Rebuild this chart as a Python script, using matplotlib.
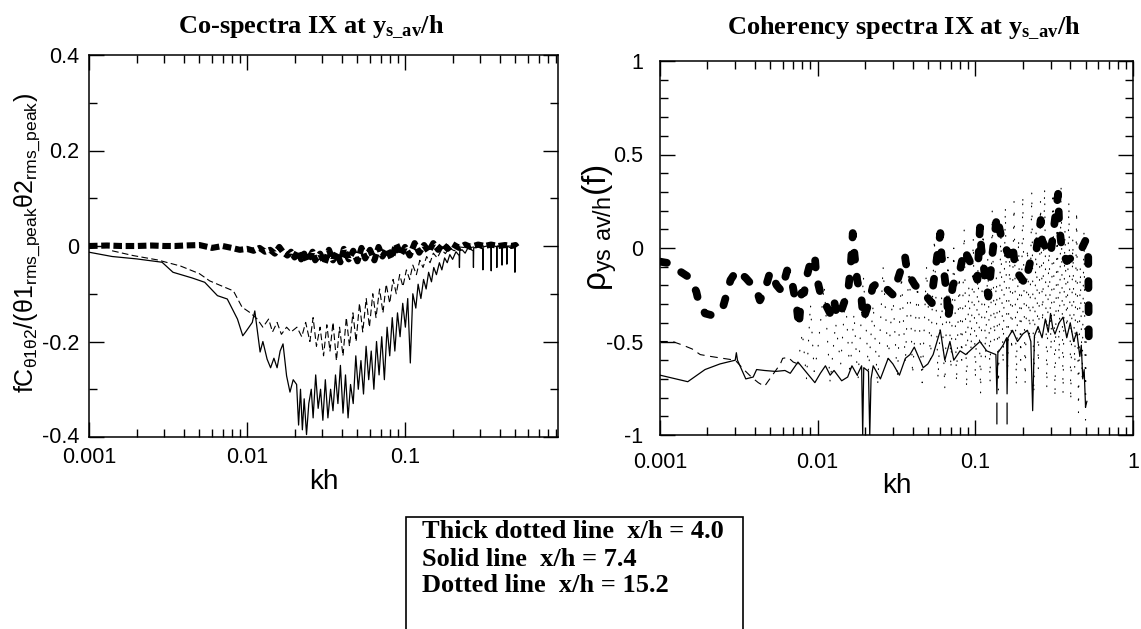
import numpy as np
import matplotlib
matplotlib.use("Agg")
import matplotlib.pyplot as plt
from matplotlib.ticker import FixedLocator, FuncFormatter, LogLocator, NullFormatter
from matplotlib.patches import Rectangle
from matplotlib.transforms import ScaledTranslation

# ---------------- data ----------------
# left panel: co-spectra
k_thick_l = [0.001, 0.0013, 0.0016, 0.002, 0.0025, 0.003, 0.0035, 0.004, 0.005, 0.006,
             0.007, 0.008, 0.009, 0.010, 0.011, 0.012, 0.013, 0.014, 0.015, 0.016,
             0.017, 0.018, 0.019, 0.020, 0.021, 0.022, 0.023, 0.024, 0.026, 0.027,
             0.029, 0.031, 0.033, 0.035, 0.037, 0.039, 0.041, 0.044, 0.047, 0.050,
             0.053, 0.056, 0.060, 0.064, 0.068, 0.072, 0.077, 0.082, 0.088, 0.094,
             0.100, 0.107, 0.115, 0.123, 0.132, 0.141, 0.151, 0.162, 0.174, 0.186,
             0.20, 0.22, 0.24, 0.26, 0.29, 0.32, 0.35, 0.39, 0.43, 0.47, 0.50, 0.51]
y_thick_l = [0.000, 0.001, 0.000, 0.000, 0.001, 0.000, 0.000, 0.001, 0.002, -0.004,
             0.000, -0.004, -0.008, -0.006, -0.010, -0.004, -0.012, -0.008, -0.016, -0.002,
             -0.014, -0.020, -0.012, -0.024, -0.010, -0.028, -0.016, -0.032, -0.012, -0.030,
             -0.016, -0.036, -0.008, -0.030, -0.014, -0.034, -0.006, -0.028, -0.010, -0.032,
             -0.004, -0.026, -0.008, -0.030, -0.002, -0.022, -0.006, -0.026, 0.004, -0.018,
             -0.002, -0.020, 0.006, -0.014, 0.002, -0.012, 0.006, -0.008, 0.004, -0.006,
             0.004, -0.004, 0.003, -0.002, 0.003, 0.000, 0.003, 0.000, 0.002, 0.000, 0.002, -0.002]

k_solid_l = [0.001, 0.0014, 0.002, 0.0029, 0.0034, 0.0045, 0.0054, 0.0065, 0.0075, 0.0087,
             0.0094, 0.0098, 0.0108, 0.0112, 0.0121, 0.0126, 0.0134, 0.0141, 0.0148, 0.0155,
             0.0162, 0.0169, 0.0178, 0.0187, 0.0196, 0.0206, 0.0212, 0.0218, 0.0224, 0.0230,
             0.0238, 0.0246, 0.0255, 0.0262, 0.0272, 0.0282, 0.0292, 0.0302, 0.0313, 0.0325,
             0.0338, 0.0350, 0.0363, 0.0376, 0.0390, 0.0405, 0.0420, 0.0436, 0.0452, 0.0470,
             0.0488, 0.0506, 0.0526, 0.0546, 0.0567, 0.0589, 0.0611, 0.0635, 0.0660, 0.0685,
             0.0712, 0.0740, 0.0770, 0.0800, 0.0830, 0.0862, 0.0896, 0.0930, 0.0967, 0.1005,
             0.104, 0.108, 0.112, 0.117, 0.121, 0.126, 0.131, 0.136, 0.141, 0.147,
             0.152, 0.158, 0.165, 0.171, 0.178, 0.185, 0.192, 0.200, 0.210, 0.220,
             0.221, 0.222, 0.23, 0.24, 0.25, 0.27, 0.271, 0.272, 0.29, 0.31,
             0.311, 0.312, 0.33, 0.35, 0.351, 0.352, 0.37, 0.38, 0.381, 0.382,
             0.40, 0.41, 0.411, 0.412, 0.43, 0.44, 0.441, 0.442, 0.46, 0.495,
             0.496, 0.497, 0.50]
y_solid_l = [-0.013, -0.022, -0.027, -0.034, -0.055, -0.067, -0.076, -0.104, -0.111, -0.153,
             -0.188, -0.180, -0.160, -0.136, -0.222, -0.200, -0.237, -0.255, -0.235, -0.255,
             -0.220, -0.205, -0.272, -0.306, -0.280, -0.290, -0.375, -0.300, -0.385, -0.320,
             -0.395, -0.330, -0.300, -0.360, -0.270, -0.340, -0.300, -0.365, -0.280, -0.360,
             -0.300, -0.345, -0.270, -0.330, -0.250, -0.350, -0.270, -0.360, -0.290, -0.330,
             -0.230, -0.300, -0.240, -0.310, -0.210, -0.280, -0.220, -0.300, -0.200, -0.270,
             -0.190, -0.280, -0.170, -0.230, -0.150, -0.220, -0.140, -0.190, -0.120, -0.170,
             -0.110, -0.245, -0.100, -0.130, -0.080, -0.110, -0.070, -0.090, -0.055, -0.075,
             -0.045, -0.060, -0.035, -0.050, -0.025, -0.035, -0.018, -0.028, -0.012, -0.020,
             -0.045, -0.010, -0.008, -0.015, -0.004, -0.010, -0.045, -0.004, -0.002, -0.006,
             -0.050, -0.002, 0.000, -0.004, -0.052, 0.000, 0.000, -0.002, -0.045, 0.000,
             -0.002, 0.000, -0.040, 0.000, 0.000, -0.002, -0.038, 0.000, -0.003, 0.000,
             -0.055, 0.000, 0.000]

k_dot_l = [0.0014, 0.0019, 0.0027, 0.0038, 0.0050, 0.0058, 0.0065, 0.0082, 0.0093, 0.0105,
           0.0116, 0.0126, 0.0137, 0.0145, 0.0155, 0.0165, 0.0178, 0.0190, 0.0207, 0.0222,
           0.0235, 0.0250, 0.0262, 0.0275, 0.0290, 0.0305, 0.0320, 0.0335, 0.0350, 0.0368,
           0.0385, 0.0405, 0.0425, 0.0445, 0.0468, 0.0490, 0.0515, 0.0540, 0.0568, 0.0595,
           0.0625, 0.0655, 0.0690, 0.0725, 0.0760, 0.0800, 0.0840, 0.0880, 0.0925, 0.0970,
           0.102, 0.107, 0.112, 0.118, 0.124, 0.130, 0.137, 0.144, 0.151, 0.160,
           0.170, 0.180, 0.190, 0.205, 0.22, 0.25, 0.30, 0.40, 0.50]
y_dot_l = [-0.010, -0.020, -0.029, -0.042, -0.058, -0.073, -0.080, -0.094, -0.128, -0.140,
           -0.153, -0.170, -0.153, -0.180, -0.160, -0.185, -0.170, -0.180, -0.170, -0.190,
           -0.160, -0.200, -0.150, -0.210, -0.170, -0.230, -0.165, -0.220, -0.160, -0.240,
           -0.170, -0.230, -0.150, -0.210, -0.140, -0.200, -0.120, -0.180, -0.110, -0.170,
           -0.100, -0.150, -0.090, -0.140, -0.080, -0.120, -0.070, -0.100, -0.060, -0.085,
           -0.050, -0.070, -0.040, -0.060, -0.030, -0.045, -0.022, -0.035, -0.015, -0.025,
           -0.008, -0.016, -0.004, -0.010, -0.002, -0.004, 0.000, 0.000, 0.000]

# right panel: coherency
k_thick_r = [0.001, 0.00112, 0.0013, 0.00155, 0.0017, 0.00175, 0.00193, 0.00214, 0.0025, 0.0026,
             0.0028, 0.00308, 0.0035, 0.0041, 0.0043, 0.0046, 0.005, 0.0055, 0.0059, 0.0064,
             0.0068, 0.0074, 0.0076, 0.0079, 0.0082, 0.0086, 0.0092, 0.0096, 0.0098, 0.0104,
             0.0112, 0.012, 0.0127, 0.0133, 0.0142, 0.0156, 0.0162, 0.0167, 0.0171, 0.0178,
             0.019, 0.0195, 0.021, 0.0224, 0.0245, 0.030, 0.0358, 0.037, 0.0415, 0.046,
             0.053, 0.054, 0.060, 0.061, 0.064, 0.0663, 0.067, 0.072, 0.080, 0.085,
             0.091, 0.103, 0.107, 0.109, 0.115, 0.121, 0.128, 0.137, 0.146, 0.162,
             0.172, 0.180, 0.207, 0.222, 0.24, 0.26, 0.265, 0.28, 0.30, 0.335,
             0.34, 0.355, 0.38, 0.41, 0.463, 0.50, 0.52, 0.525]
y_thick_r = [-0.073, -0.08, -0.118, -0.16, -0.234, -0.28, -0.35, -0.36, -0.32, -0.27,
             -0.171, -0.118, -0.16, -0.225, -0.28, -0.23, -0.127, -0.20, -0.23, -0.12,
             -0.16, -0.33, -0.42, -0.24, -0.24, -0.14, -0.046, -0.046, -0.15, -0.24,
             -0.30, -0.35, -0.28, -0.37, -0.33, -0.23, -0.10, 0.08, -0.03, -0.17,
             -0.28, -0.38, -0.30, -0.207, -0.18, -0.25, -0.046, -0.13, -0.20, -0.23,
             -0.295, -0.20, 0.08, -0.04, -0.16, -0.27, -0.38, -0.20, -0.118, -0.01,
             -0.06, -0.17, 0.11, 0.00, -0.15, -0.26, -0.04, 0.17, 0.06, -0.035,
             0.02, -0.12, -0.19, -0.08, -0.05, 0.15, 0.04, 0.00, -0.035, 0.29,
             0.13, -0.02, -0.07, -0.05, -0.02, 0.04, -0.05, -0.55]

k_solid_r = [0.001, 0.0015, 0.00193, 0.0024, 0.003, 0.00305, 0.0031, 0.0035, 0.0039, 0.0041,
             0.0046, 0.0054, 0.0062, 0.0067, 0.0075, 0.0082, 0.0096, 0.0104, 0.0112, 0.0120,
             0.0127, 0.0142, 0.0155, 0.0165, 0.0178, 0.0190, 0.0193, 0.0196, 0.0210, 0.0214,
             0.0218, 0.0225, 0.025, 0.028, 0.030, 0.033, 0.036, 0.0385, 0.041, 0.0467,
             0.050, 0.054, 0.060, 0.064, 0.069, 0.073, 0.080, 0.087, 0.095, 0.107,
             0.118, 0.135, 0.137, 0.139, 0.150, 0.158, 0.159, 0.161, 0.172, 0.185,
             0.20, 0.214, 0.225, 0.231, 0.237, 0.25, 0.265, 0.278, 0.29, 0.30,
             0.31, 0.32, 0.34, 0.36, 0.38, 0.40, 0.42, 0.44, 0.46, 0.47,
             0.48, 0.49, 0.50, 0.51, np.nan, 0.137, 0.137, np.nan, 0.159, 0.159]
y_solid_r = [-0.68, -0.715, -0.65, -0.62, -0.60, -0.56, -0.60, -0.70, -0.69, -0.65,
             -0.655, -0.66, -0.655, -0.67, -0.61, -0.65, -0.72, -0.67, -0.63, -0.68,
             -0.655, -0.71, -0.69, -0.63, -0.68, -0.63, -1.00, -0.64, -0.66, -1.00,
             -0.70, -0.63, -0.70, -0.59, -0.62, -0.68, -0.59, -0.57, -0.53, -0.64,
             -0.62, -0.57, -0.44, -0.60, -0.50, -0.60, -0.55, -0.57, -0.54, -0.50,
             -0.55, -0.57, -0.78, -0.56, -0.52, -0.48, -0.78, -0.48, -0.44, -0.50,
             -0.46, -0.44, -0.50, -0.87, -0.47, -0.42, -0.48, -0.38, -0.45, -0.35,
             -0.43, -0.46, -0.40, -0.37, -0.48, -0.40, -0.50, -0.45, -0.58, -0.52,
             -0.70, -0.65, -0.85, -0.82, np.nan, -0.83, -0.94, np.nan, -0.83, -0.94]

k_dot_r = [0.001, 0.0012, 0.0014, 0.0016, 0.0018, 0.0021, 0.0025, 0.003, 0.0034, 0.0038,
           0.0042, 0.0046, 0.0058, 0.006, 0.0065, 0.007, 0.0075,
           0.008, 0.0085, 0.009, 0.0095, 0.010, 0.011, 0.012, 0.013, 0.014, 0.015,
           0.016, 0.017, 0.018, 0.0195, 0.021, 0.0225, 0.024, 0.026, 0.028, 0.030,
           0.032, 0.034, 0.036, 0.038, 0.040, 0.043, 0.046, 0.049, 0.052, 0.055,
           0.058, 0.061, 0.064, 0.067, 0.070, 0.073, 0.076, 0.079, 0.082, 0.085,
           0.088, 0.091, 0.094, 0.097, 0.100, 0.104, 0.108, 0.112, 0.116, 0.120,
           0.124, 0.128, 0.132, 0.136, 0.140, 0.145, 0.150, 0.155, 0.160, 0.165,
           0.170, 0.176, 0.182, 0.188, 0.194, 0.20, 0.207, 0.214, 0.221, 0.228,
           0.235, 0.243, 0.251, 0.259, 0.267, 0.275, 0.284, 0.293, 0.302, 0.311,
           0.320, 0.330, 0.340, 0.350, 0.360, 0.370, 0.381, 0.392, 0.403, 0.415,
           0.427, 0.439, 0.451, 0.463, 0.476, 0.489, 0.50, 0.505]
y_dot_r = [-0.50, -0.50, -0.52, -0.54, -0.57, -0.58, -0.59, -0.60, -0.65, -0.69,
           -0.72, -0.74, -0.62, -0.59, -0.585, -0.61, -0.62,
           -0.45, -0.70, -0.30, -0.66, -0.55, -0.20, -0.72, -0.40, -0.62, -0.25,
           -0.68, -0.35, -0.72, -0.15, -0.66, -0.30, -0.74, -0.10, -0.60, -0.25,
           -0.70, -0.15, -0.62, -0.05, -0.68, -0.20, -0.72, -0.10, -0.60, 0.05,
           -0.70, -0.25, -0.75, -0.05, -0.65, 0.00, -0.72, -0.15, -0.60, 0.10,
           -0.75, -0.20, -0.55, 0.05, -0.70, -0.10, -0.78, 0.15, -0.60, -0.05,
           -0.72, 0.20, -0.50, -0.15, -0.76, 0.10, -0.62, 0.22, -0.70, -0.05,
           -0.55, 0.25, -0.74, 0.05, -0.60, 0.28, -0.72, 0.00, -0.50, 0.30,
           -0.78, 0.10, -0.65, 0.25, -0.40, 0.32, -0.75, 0.05, -0.55, 0.30,
           -0.80, 0.15, -0.60, 0.33, -0.78, 0.10, -0.50, 0.25, -0.82, 0.05,
           -0.65, 0.20, -0.88, -0.10, -0.70, 0.10, -0.92, -0.40]

legend_lines = ["Thick dotted line  x/h = 4.0",
                "Solid line  x/h = 7.4",
                "Dotted line  x/h = 15.2"]

# ---------------- figure ----------------
W, H = 1141, 629
fig = plt.figure(figsize=(W / 100, H / 100), dpi=100)
sans = "Liberation Sans"
serif = "Liberation Serif"


def px_axes(x0, y0, x1, y1):
    return fig.add_axes([x0 / W, 1 - y1 / H, (x1 - x0) / W, (y1 - y0) / H])


def style_axes(ax, ymaj, ymin, xpad, ypad):
    ax.set_xscale("log")
    ax.xaxis.set_major_locator(LogLocator(base=10, numticks=10))
    ax.xaxis.set_minor_locator(LogLocator(base=10, subs=np.arange(2, 10), numticks=20))
    ax.xaxis.set_minor_formatter(NullFormatter())
    ax.xaxis.set_major_formatter(FuncFormatter(lambda v, _: f"{v:g}"))
    ax.yaxis.set_major_locator(FixedLocator(ymaj))
    ax.yaxis.set_minor_locator(FixedLocator(ymin))
    ax.yaxis.set_major_formatter(FuncFormatter(lambda v, _: "0" if abs(v) < 1e-9 else f"{v:g}"))
    ax.tick_params(which="both", direction="in", top=True, right=True, width=1.0, color="black")
    ax.tick_params(which="major", length=11)
    ax.tick_params(which="minor", length=6)
    ax.tick_params(axis="x", which="major", pad=xpad, labelsize=15.5)
    ax.tick_params(axis="y", which="major", pad=ypad, labelsize=15.5)
    for lab in ax.get_xticklabels() + ax.get_yticklabels():
        lab.set_fontfamily(sans)
    for s in ax.spines.values():
        s.set_linewidth(1.1)


# left panel
axl = px_axes(89, 55, 558, 437)
axl.plot(k_thick_l, y_thick_l, color="black", lw=4.4, linestyle=(0, (1.4, 0.6)))
axl.plot(k_solid_l, y_solid_l, color="black", lw=0.9)
axl.plot(k_dot_l, y_dot_l, color="black", lw=0.8, linestyle=(0, (6, 3)))
axl.set_xlim(0.001, 0.929)
axl.set_ylim(-0.4, 0.4)
style_axes(axl, [-0.4, -0.2, 0, 0.2, 0.4], [-0.3, -0.1, 0.1, 0.3], 7, 7)
axl.set_xlabel("kh", fontsize=20, fontfamily=sans, labelpad=1)

# right panel
axr = px_axes(660, 61, 1133, 435)
axr.plot(k_thick_r, y_thick_r, color="black", lw=5.6, linestyle=(0, (0.9, 2.2)),
         dash_capstyle="round")
axr.plot(k_solid_r, y_solid_r, color="black", lw=0.9)
k_dot_r_arr = np.array(k_dot_r)
y_dot_r_arr = np.array(y_dot_r)
early = k_dot_r_arr <= 0.0075
axr.plot(k_dot_r_arr[early], y_dot_r_arr[early], color="black", lw=0.8,
         linestyle=(0, (7, 5)))
late = k_dot_r_arr >= 0.0075
axr.plot(k_dot_r_arr[late], y_dot_r_arr[late], color="black", lw=0.8,
         linestyle=(0, (0.7, 11)), dash_capstyle="round")
axr.set_xlim(0.001, 1)
axr.set_ylim(-1, 1)
style_axes(axr, [-1, -0.5, 0, 0.5, 1], np.round(np.arange(-0.9, 1.0, 0.1), 2), 12, 12)
axr.set_xlabel("kh", fontsize=20, fontfamily=sans, labelpad=0)

# the original nudges the corner labels of the left panel apart
fig.canvas.draw()
first_x = axl.xaxis.get_major_ticks()[0].label1
first_x.set_transform(first_x.get_transform() + ScaledTranslation(0.07, -0.03, fig.dpi_scale_trans))
first_y = axl.yaxis.get_major_ticks()[0].label1
first_y.set_transform(first_y.get_transform() + ScaledTranslation(0, 0.02, fig.dpi_scale_trans))

# titles
fig.text(311 / W, 1 - 27 / H, r"Co-spectra IX at $\mathregular{y_{s\_av}}$/h",
         fontsize=19, fontweight="bold", fontfamily=serif, ha="center", va="center")
fig.text(904 / W, 1 - 28 / H, r"Coherency spectra IX at $\mathregular{y_{s\_av}}$/h",
         fontsize=19, fontweight="bold", fontfamily=serif, ha="center", va="center")

# y labels
fig.text(27 / W, 1 - 243 / H,
         r"$\mathregular{fC_{θ1θ2}/(θ1_{rms\_peak}θ2_{rms\_peak})}$",
         fontsize=18, fontfamily=sans, rotation=90, ha="center", va="center")
fig.text(600 / W, 1 - 228 / H, r"$\mathregular{ρ_{ys\ av/h}(f)}$",
         fontsize=24, fontfamily=sans, rotation=90, ha="center", va="center")

# legend box
fig.patches.append(Rectangle((406 / W, -0.05), (743 - 406) / W, 1 - 517 / H + 0.05,
                             transform=fig.transFigure, fill=False, lw=1.2,
                             edgecolor="black"))
for i, line in enumerate(legend_lines):
    fig.text(422 / W, 1 - (532 + 27 * i) / H, line, fontsize=19, fontweight="bold",
             fontfamily=serif, ha="left", va="center")

fig.savefig("out.png", dpi=100, facecolor="white")
